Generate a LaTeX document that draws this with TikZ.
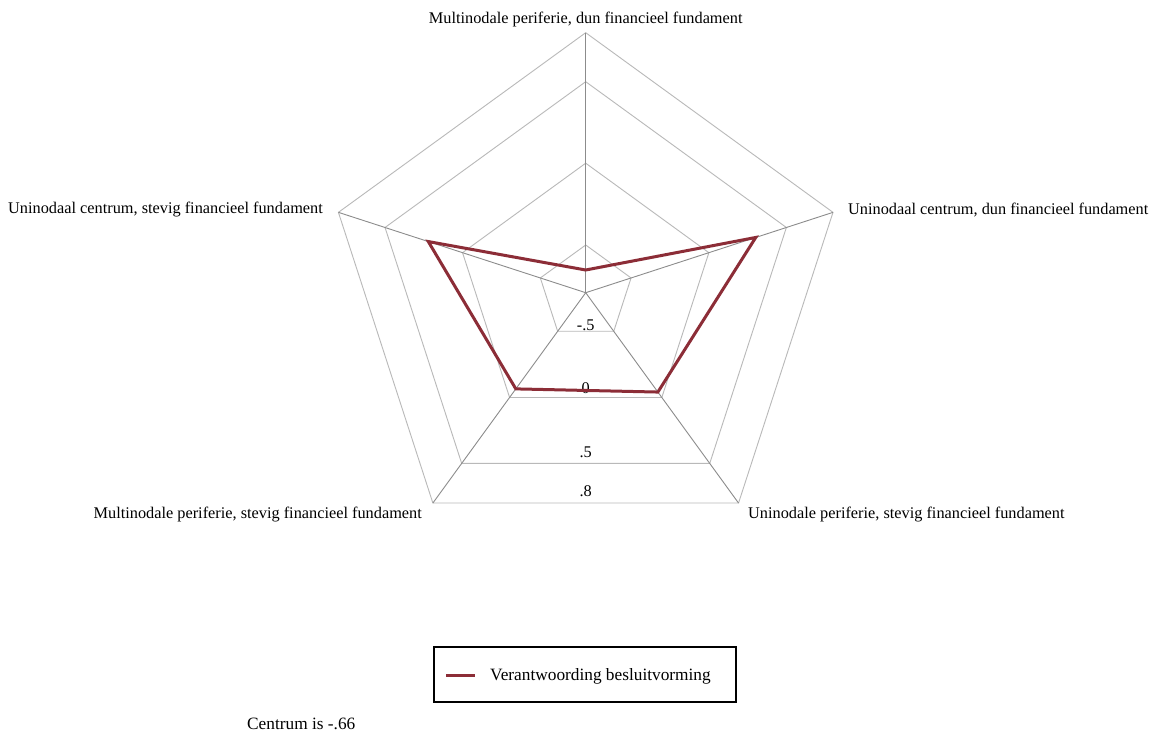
\documentclass[tikz,border=0pt]{standalone}
\usepackage{fontspec}
\setmainfont{Liberation Serif}
\usetikzlibrary{calc}
\definecolor{gridc}{RGB}{185,185,185}
\definecolor{spokec}{RGB}{140,140,140}
\definecolor{datac}{RGB}{140,45,55}
\tikzset{
  ring/.style={draw=gridc, line width=0.9pt, line join=miter},
  spoke/.style={draw=spokec, line width=0.9pt},
  dataline/.style={draw=datac, line width=3pt, line join=miter},
  lbl/.style={font=\fontsize{16.3}{19}\selectfont, inner sep=0pt},
  biglbl/.style={font=\fontsize{17.3}{20}\selectfont, inner sep=0pt},
  legendbox/.style={draw=black, line width=1.3pt}
}
\begin{document}
\begin{tikzpicture}[x=1pt,y=1pt]
\useasboundingbox (0,-738) rectangle (1153,0);
\fill[white] (0,-738) rectangle (1153,0);
\coordinate (C) at (585.7,-292.7);
% ring vertices
\foreach \r/\n in {47.7/a,129.5/b,211/c,260/d}{
  \foreach \ang/\k in {90/1,18/2,-54/3,234/4,162/5}{
    \coordinate (\n\k) at ($(C)+(\ang:\r)$);
  }
}
\foreach \n in {a,b,c,d}{
  \draw[ring] (\n1) -- (\n2) -- (\n3) -- (\n4) -- (\n5) -- cycle;
}
\foreach \k in {1,...,5}{
  \draw[spoke] (C) -- (d\k);
}
% ring labels
\node[lbl] (la) at (585.7,-325) {-.5};
\node[lbl] (lb) at (585.7,-388) {0};
\node[lbl] (lc) at (585.7,-452) {.5};
\node[lbl] (ld) at (585.7,-491) {.8};
% data
\coordinate (p1) at ($(C)+(90:22.7)$);
\coordinate (p2) at ($(C)+(18:178.8)$);
\coordinate (p3) at ($(C)+(-54:122.8)$);
\coordinate (p4) at ($(C)+(234:118.9)$);
\coordinate (p5) at ($(C)+(162:165.5)$);
\draw[dataline] (p1) -- (p2) -- (p3) -- (p4) -- (p5) -- cycle;
% axis labels
\node[lbl] (t1) at (585.7,-19) {Multinodale periferie, dun financieel fundament};
\node[lbl, anchor=east] (t5) at (323,-210) {Uninodaal centrum, stevig financieel fundament};
\node[lbl, anchor=west] (t2) at (848,-210) {Uninodaal centrum, dun financieel fundament};
\node[lbl, anchor=east] (t4) at (422,-515) {Multinodale periferie, stevig financieel fundament};
\node[lbl, anchor=west] (t3) at (748,-515) {Uninodale periferie, stevig financieel fundament};
% legend
\node[legendbox, minimum width=302pt, minimum height=55pt, inner sep=0pt] (leg) at (585,-674.5) {};
\coordinate (ls1) at (446,-675.7);
\coordinate (ls2) at (475,-675.7);
\draw[dataline] (ls1) -- (ls2);
\node[biglbl, anchor=west] (legt) at (490,-676) {Verantwoording besluitvorming};
\node[biglbl, anchor=west] (cen) at (247,-724) {Centrum is -.66};
\end{tikzpicture}
\end{document}
